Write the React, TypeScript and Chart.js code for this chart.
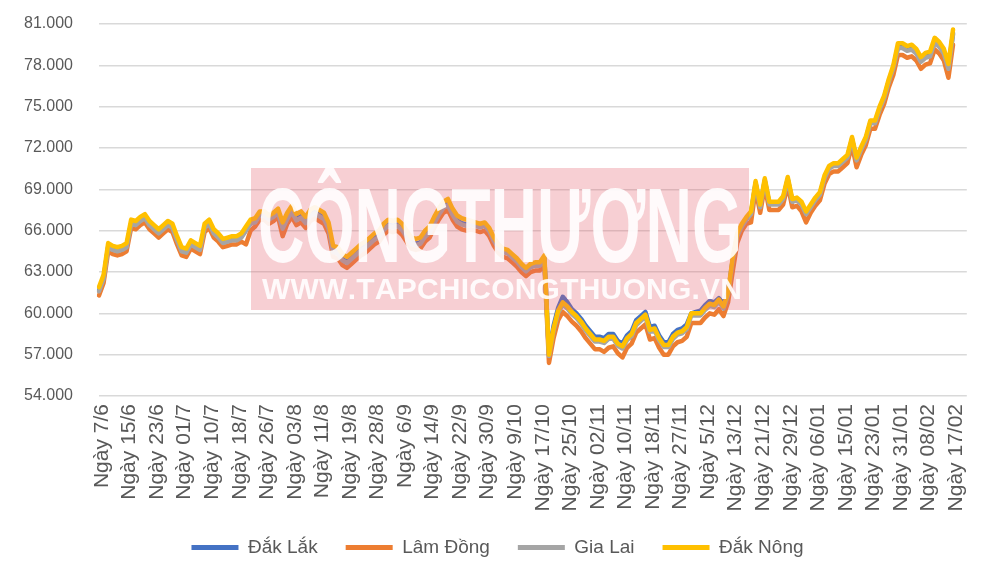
import React, { useEffect, useRef } from "react";
import { Chart, registerables } from "chart.js";

Chart.register(...registerables);

// ---- tick labels (one every 6 trading days) ----
const tickLabels = [
  "Ngày 7/6", "Ngày 15/6", "Ngày 23/6", "Ngày 01/7", "Ngày 10/7", "Ngày 18/7",
  "Ngày 26/7", "Ngày 03/8", "Ngày 11/8", "Ngày 19/8", "Ngày 28/8", "Ngày 6/9",
  "Ngày 14/9", "Ngày 22/9", "Ngày 30/9", "Ngày 9/10", "Ngày 17/10", "Ngày 25/10",
  "Ngày 02/11", "Ngày 10/11", "Ngày 18/11", "Ngày 27/11", "Ngày 5/12", "Ngày 13/12",
  "Ngày 21/12", "Ngày 29/12", "Ngày 06/01", "Ngày 15/01", "Ngày 23/01", "Ngày 31/01",
  "Ngày 08/02", "Ngày 17/02",
];
const LABEL_EVERY = 6;
const TRAILING_EMPTY = 3;

const seriesNames = ["Đắk Lắk", "Lâm Đồng", "Gia Lai", "Đắk Nông"];
const seriesColors = ["#4472C4", "#ED7D31", "#A5A5A5", "#FFC000"];

// ---- values (VND/kg) ----
const dakLak = [
  61650, 62550, 64850, 64650, 64550, 64650, 64850, 66550, 66450, 66750,
  66950, 66450, 66150, 65850, 66150, 66450, 66250, 65350, 64550, 64450,
  65050, 64850, 64650, 66250, 66550, 65850, 65550, 65150, 65250, 65350,
  65350, 65550, 66050, 66550, 66650, 67150, 67150, 66850, 67050, 67350,
  66250, 66950, 67450, 66850, 67050, 66650, 67150, 67350, 67150, 66950,
  66250, 64550, 64450, 63950, 63750, 64050, 64350, 64650, 64850, 65150,
  65450, 65650, 66150, 66450, 66350, 66450, 66150, 65650, 65150, 65050,
  65150, 65650, 65950, 66650, 67250, 67750, 67950, 67250, 66750, 66550,
  66450, 66500, 66400, 66300, 66400, 66000, 65300, 64800, 64500, 64400,
  64100, 63800, 63400, 63100, 63400, 63500, 63500, 64000, 57000, 59100,
  60400, 61200, 60800, 60300, 60000, 59600, 59100, 58700, 58300, 58300,
  58200, 58500, 58500, 58000, 57800, 58400, 58700, 59500, 59800, 60100,
  59000, 59100, 58400, 57900, 57900, 58500, 58800, 58900, 59200, 60000,
  60100, 60200, 60600, 60900, 60800, 61100, 60700, 61500, 63850, 65650,
  66350, 66850, 67250, 69450, 67750, 69650, 67950, 67950, 67950, 68350,
  69750, 68150, 68250, 67950, 67250, 67750, 68250, 68650, 69850, 70550,
  70750, 70750, 71050, 71350, 72650, 71150, 71950, 72650, 73850, 73850,
  74850, 75650, 76850, 77850, 79350, 79350, 79150, 79250, 78950, 78350,
  78650, 78750, 79750, 79450, 78950, 77850, 80350,
];
const lamDong = [
  61300, 62200, 64500, 64300, 64200, 64300, 64500, 66200, 66100, 66400,
  66600, 66100, 65800, 65500, 65800, 66100, 65900, 65000, 64200, 64100,
  64700, 64500, 64300, 65900, 66200, 65500, 65200, 64800, 64900, 65000,
  65000, 65200, 65000, 66000, 66300, 66800, 66800, 66500, 66700, 67000,
  65600, 66500, 67000, 66400, 66600, 66200, 66700, 66900, 66700, 66500,
  65800, 64100, 64000, 63500, 63300, 63600, 63900, 64200, 64400, 64700,
  65000, 65200, 65700, 66000, 65900, 66000, 65700, 65200, 64700, 64600,
  64700, 65200, 65500, 66200, 66800, 67300, 67500, 66800, 66300, 66100,
  66000, 66100, 66000, 65900, 66000, 65600, 64900, 64400, 64100, 64000,
  63700, 63400, 63000, 62700, 63000, 63100, 63100, 63600, 56400, 58200,
  59500, 60100, 59800, 59400, 59100, 58700, 58200, 57800, 57400, 57400,
  57200, 57500, 57600, 57100, 56800, 57500, 57800, 58600, 58900, 59200,
  58100, 58200, 57500, 57000, 57000, 57600, 57900, 58000, 58300, 59300,
  59300, 59300, 59700, 60000, 59900, 60300, 59800, 60800, 63000, 65100,
  66000, 66500, 66600, 69000, 67300, 69200, 67500, 67500, 67500, 67900,
  69300, 67700, 67800, 67400, 66600, 67300, 67800, 68200, 69400, 70100,
  70300, 70300, 70600, 70900, 72200, 70600, 71500, 72200, 73400, 73400,
  74400, 75200, 76400, 77300, 78750, 78750, 78550, 78650, 78350, 77750,
  78050, 78150, 79150, 78850, 78350, 77100, 79500,
];
const giaLai = [
  61600, 62500, 64800, 64600, 64500, 64600, 64800, 66500, 66400, 66700,
  66900, 66400, 66100, 65800, 66100, 66400, 66200, 65300, 64500, 64400,
  65000, 64800, 64600, 66200, 66500, 65800, 65500, 65100, 65200, 65300,
  65300, 65500, 66000, 66500, 66600, 67100, 67100, 66800, 67000, 67300,
  66150, 66850, 67350, 66750, 66950, 66550, 67050, 67250, 67050, 66850,
  66150, 64450, 64350, 63850, 63650, 63950, 64250, 64550, 64750, 65050,
  65350, 65550, 66050, 66350, 66250, 66350, 66050, 65550, 65050, 64950,
  65050, 65550, 65850, 66550, 67150, 67650, 67850, 67150, 66650, 66450,
  66350, 66450, 66350, 66250, 66350, 65950, 65250, 64750, 64450, 64350,
  64050, 63750, 63350, 63050, 63350, 63450, 63450, 63950, 56900, 58750,
  60050, 60650, 60350, 59950, 59650, 59250, 58750, 58350, 57950, 57950,
  57850, 58150, 58150, 57650, 57450, 58050, 58350, 59150, 59450, 59750,
  58650, 58750, 58050, 57550, 57550, 58150, 58450, 58550, 58850, 59850,
  59850, 59850, 60250, 60550, 60450, 60850, 60350, 61350, 63800, 65600,
  66300, 66800, 67200, 69400, 67700, 69600, 67900, 67900, 67900, 68300,
  69700, 68100, 68200, 67900, 67200, 67700, 68200, 68600, 69800, 70500,
  70700, 70700, 71000, 71300, 72600, 71100, 71900, 72600, 73800, 73800,
  74800, 75600, 76800, 77800, 79250, 79250, 79050, 79150, 78850, 78250,
  78550, 78650, 79650, 79350, 78850, 77750, 80250,
];
const dakNong = [
  61900, 62800, 65100, 64900, 64800, 64900, 65100, 66800, 66700, 67000,
  67200, 66700, 66400, 66100, 66400, 66700, 66500, 65600, 64800, 64700,
  65300, 65100, 64900, 66500, 66800, 66100, 65800, 65400, 65500, 65600,
  65600, 65800, 66300, 66800, 66900, 67400, 67400, 67100, 67300, 67600,
  66600, 67300, 67800, 67200, 67400, 67000, 67500, 67700, 67500, 67300,
  66600, 64900, 64800, 64300, 64100, 64400, 64700, 65000, 65200, 65500,
  65800, 66000, 66500, 66800, 66700, 66800, 66500, 66000, 65500, 65400,
  65500, 66000, 66300, 67000, 67600, 68100, 68300, 67600, 67100, 66900,
  66800, 66700, 66600, 66500, 66600, 66200, 65500, 65000, 64700, 64600,
  64300, 64000, 63600, 63300, 63600, 63700, 63700, 64200, 57000, 58900,
  60200, 60800, 60500, 60100, 59800, 59400, 58900, 58500, 58100, 58100,
  58000, 58300, 58300, 57800, 57600, 58200, 58500, 59300, 59600, 59900,
  58800, 58900, 58200, 57700, 57700, 58300, 58600, 58700, 59000, 60000,
  60000, 60000, 60400, 60700, 60600, 61000, 60500, 61500, 64000, 65800,
  66500, 67000, 67400, 69600, 67900, 69800, 68100, 68100, 68100, 68500,
  69900, 68300, 68400, 68100, 67400, 67900, 68400, 68800, 70000, 70700,
  70900, 70900, 71200, 71500, 72800, 71300, 72100, 72800, 74000, 74000,
  75000, 75800, 77000, 78000, 79600, 79600, 79400, 79500, 79200, 78600,
  78900, 79000, 80000, 79700, 79200, 78100, 80600,
];

const yMin = 54000;
const yMax = 81000;
const yStep = 3000;

const FONT = '"Liberation Sans", Arial, Helvetica, sans-serif';
const TEXT_COLOR = "#595959";

function buildCategories(): string[] {
  const total = (tickLabels.length - 1) * LABEL_EVERY + 1 + TRAILING_EMPTY;
  const out: string[] = [];
  for (let i = 0; i < total; i++) {
    const k = i / LABEL_EVERY;
    out.push(i % LABEL_EVERY === 0 && k < tickLabels.length ? tickLabels[k] : "");
  }
  return out;
}

function drawStretched(
  ctx: CanvasRenderingContext2D,
  text: string,
  font: string,
  x: number,
  baseline: number,
  width: number
) {
  ctx.save();
  ctx.font = font;
  const w = ctx.measureText(text).width;
  ctx.translate(x, baseline);
  ctx.scale(width / w, 1);
  ctx.textAlign = "left";
  ctx.textBaseline = "alphabetic";
  ctx.fillText(text, 0, 0);
  ctx.restore();
}

function drawSpaced(
  ctx: CanvasRenderingContext2D,
  text: string,
  font: string,
  x: number,
  baseline: number,
  width: number
) {
  ctx.save();
  ctx.font = font;
  ctx.textAlign = "left";
  ctx.textBaseline = "alphabetic";
  const chars = Array.from(text);
  const widths = chars.map((c) => ctx.measureText(c).width);
  const natural = widths.reduce((a, b) => a + b, 0);
  const gap = (width - natural) / (chars.length - 1);
  let cx = x;
  chars.forEach((c, i) => {
    ctx.fillText(c, cx, baseline);
    cx += widths[i] + gap;
  });
  ctx.restore();
}

const watermarkPlugin = {
  id: "watermark",
  afterDraw(chart: any) {
    const ctx: CanvasRenderingContext2D = chart.ctx;
    ctx.save();
    ctx.fillStyle = "rgba(228, 96, 108, 0.3)";
    ctx.fillRect(251, 168, 498, 142);
    ctx.fillStyle = "rgba(255, 255, 255, 0.9)";
    drawStretched(ctx, "CÔNGTHƯƠNG", `bold 106px ${FONT}`, 258, 262, 484);
    drawSpaced(ctx, "WWW.TAPCHICONGTHUONG.VN", `bold 30px ${FONT}`, 262, 299, 480);
    ctx.restore();
  },
};

export default function App() {
  const canvasRef = useRef<HTMLCanvasElement | null>(null);

  useEffect(() => {
    document.body.style.margin = "0";
    const canvas = canvasRef.current;
    if (!canvas) return;
    const values = [dakLak, lamDong, giaLai, dakNong];
    const drawOrder = [3, 2, 1, 0];
    const chart = new Chart(canvas, {
      type: "line",
      data: {
        labels: buildCategories(),
        datasets: seriesNames.map((name, i) => ({
          label: name,
          data: values[i],
          borderColor: seriesColors[i],
          backgroundColor: seriesColors[i],
          borderWidth: 4.5,
          pointRadius: 0,
          pointHoverRadius: 0,
          tension: 0,
          borderJoinStyle: "round" as const,
          borderCapStyle: "round" as const,
          order: drawOrder[i],
        })),
      },
      options: {
        responsive: false,
        animation: false,
        layout: { padding: { left: 24, right: 29, top: 24, bottom: 0 } },
        scales: {
          x: {
            type: "category",
            grid: { display: false, drawTicks: false },
            border: { display: false },
            ticks: {
              autoSkip: false,
              minRotation: 90,
              maxRotation: 90,
              padding: 8,
              labelOffset: 3,
              color: TEXT_COLOR,
              font: { family: FONT, size: 21 },
            },
            afterFit: (scale: any) => {
              scale.height = 114;
            },
          },
          y: {
            min: yMin,
            max: yMax,
            ticks: {
              stepSize: yStep,
              padding: 0,
              crossAlign: "far",
              color: TEXT_COLOR,
              font: { family: FONT, size: 16 },
              callback: (v: any) => (Number(v) / 1000).toFixed(3),
            },
            grid: { color: "#D9D9D9", lineWidth: 1.5, drawTicks: false },
            border: { display: false },
            afterFit: (scale: any) => {
              scale.width = 75;
            },
          },
        },
        plugins: {
          legend: {
            position: "bottom",
            labels: {
              boxWidth: 47,
              boxHeight: 5,
              padding: 28,
              color: TEXT_COLOR,
              font: { family: FONT, size: 19 },
              sort: (a: any, b: any) => a.datasetIndex - b.datasetIndex,
              generateLabels: (c: any) =>
                Chart.defaults.plugins.legend.labels
                  .generateLabels(c)
                  .map((l: any) => ({ ...l, lineWidth: 0 })),
            },
          },
          tooltip: { enabled: false },
        },
      },
      plugins: [watermarkPlugin],
    });
    return () => chart.destroy();
  }, []);

  return (
    <div style={{ width: 1000, height: 567, overflow: "hidden", background: "#fff" }}>
      <canvas ref={canvasRef} width={1000} height={567} style={{ display: "block" }} />
    </div>
  );
}
